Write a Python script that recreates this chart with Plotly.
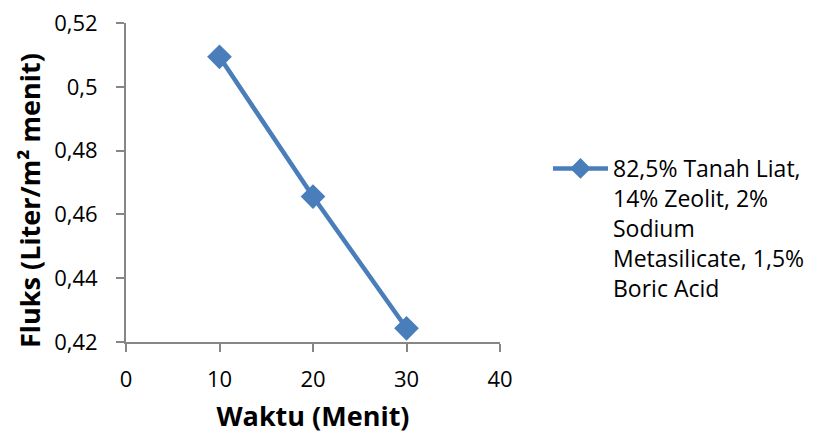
import plotly.graph_objects as go

# Flux measurements over time
waktu = [10, 20, 30]
fluks = [0.5094, 0.4656, 0.4243]
series_name = "82,5% Tanah Liat,<br>14% Zeolit, 2%<br>Sodium<br>Metasilicate, 1,5%<br>Boric Acid"

x_ticks = [0, 10, 20, 30, 40]
x_ticktext = ["0", "10", "20", "30", "40"]
y_ticks = [0.42, 0.44, 0.46, 0.48, 0.50, 0.52]
y_ticktext = ["0,42", "0,44", "0,46", "0,48", "0,5", "0,52"]

FONT = "Open Sans"
BLUE = "#4a7ebb"
AXIS = "#868686"
W, H = 814, 437

fig = go.Figure()
fig.add_trace(go.Scatter(
    x=waktu, y=fluks, mode="lines+markers", name=series_name,
    line=dict(color=BLUE, width=4.5),
    marker=dict(symbol="diamond", size=19, color=BLUE),
    showlegend=True,
))

axis_common = dict(
    showgrid=False, zeroline=False, showline=True, linecolor=AXIS, linewidth=2,
    ticks="outside", ticklen=8, tickwidth=2, tickcolor=AXIS,
    tickfont=dict(family=FONT, size=22, color="#000000"),
)

fig.update_layout(
    width=W, height=H,
    margin=dict(l=126, r=314, t=23, b=95, pad=0, autoexpand=False),
    paper_bgcolor="white", plot_bgcolor="white",
    font=dict(family=FONT, color="#000000"),
    xaxis=dict(
        range=[0, 40], tickvals=x_ticks, ticktext=x_ticktext,
        ticklabelstandoff=9,
        title=dict(text="<b>Waktu (Menit)</b>", font=dict(family=FONT, size=27), standoff=15),
        **axis_common,
    ),
    yaxis=dict(
        range=[0.42, 0.52], tickvals=y_ticks, ticktext=y_ticktext,
        ticklabelstandoff=14,
        **axis_common,
    ),
    legend=dict(
        xref="container", yref="container",
        x=548 / W, xanchor="left", y=1 - 147 / H, yanchor="top", valign="top",
        font=dict(family=FONT, size=23, color="#000000"),
        bgcolor="rgba(0,0,0,0)", itemwidth=55,
    ),
    annotations=[dict(
        text="<b>Fluks (Liter/m² menit)</b>", textangle=-90,
        xref="paper", yref="paper", x=(29 - 126) / 374, y=(342 - 201) / 319,
        xanchor="center", yanchor="middle", showarrow=False,
        font=dict(family=FONT, size=27, color="#000000"),
    )],
)

fig.write_html("out.html")
